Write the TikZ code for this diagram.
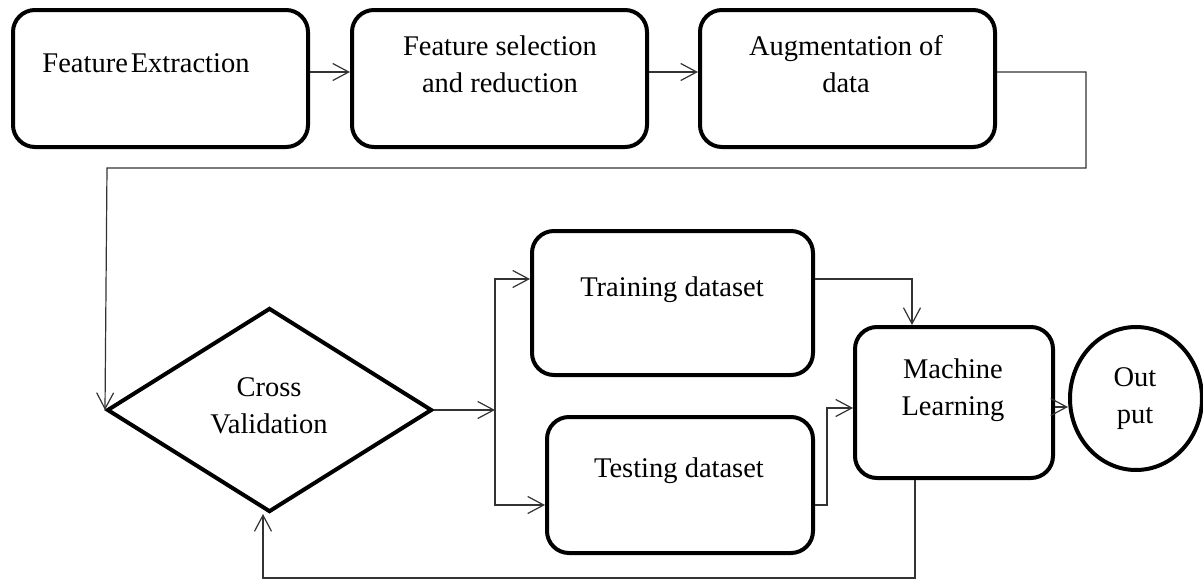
\documentclass[tikz,border=0pt]{standalone}
\usepackage{fontspec}
\setmainfont{Liberation Serif}
\usetikzlibrary{shapes.geometric,arrows.meta}
\begin{document}
\begin{tikzpicture}[x=1pt,y=-1pt,
  box/.style={draw=black,line width=4pt,rounded corners=22pt,inner sep=0pt},
  txt/.style={anchor=base,align=center,inner sep=0pt,font=\fontsize{28.5}{37}\selectfont},
  conn/.style={draw=black!80,line width=1.2pt,-{Straight Barb[length=16pt,width=17pt,line width=1.2pt]}}]
\useasboundingbox (0,0) rectangle (1203,581);
% boxes
\node[box,minimum width=295pt,minimum height=137pt] (fe) at (160.5,78.5) {};
\node[box,minimum width=295pt,minimum height=137pt] (fs) at (499.5,78.5) {};
\node[box,minimum width=295pt,minimum height=137pt] (ag) at (847.5,78.5) {};
\node[draw=black,line width=4pt,diamond,inner sep=0pt,minimum width=325pt,minimum height=204pt] (cv) at (269.5,410) {};
\node[box,minimum width=281pt,minimum height=144pt] (tr) at (672.5,303) {};
\node[box,minimum width=266pt,minimum height=136pt] (te) at (680,485) {};
\node[box,minimum width=198pt,minimum height=151pt] (ml) at (954,402.5) {};
\node[draw=black,line width=4pt,ellipse,inner sep=0pt,minimum width=132pt,minimum height=143pt] (out) at (1136,398.5) {};
% texts (anchor base = baseline of last line)
\node[txt] (tfe) at (146,72) {Feature\hspace{0.1em}Extraction};
\node[txt] (tfs) at (500,92) {Feature selection\\and reduction};
\node[txt] (tag) at (846,92) {Augmentation of\\data};
\node[txt] (tcv) at (269,433) {Cross\\Validation};
\node[txt] (ttr) at (672,296) {Training dataset};
\node[txt] (tte) at (679,477) {Testing dataset};
\node[txt] (tml) at (953,415) {Machine\\Learning};
\node[txt] (tout) at (1135,423) {Out\\put};
% connectors
\draw[conn] ([yshift=6.5pt]fe.east) -- ([yshift=6.5pt]fs.west);
\draw[conn] ([yshift=6.5pt]fs.east) -- ([yshift=6.5pt]ag.west);
\coordinate (r1) at (1086,72);
\coordinate (r2) at (1086,168);
\coordinate (l1) at (107,168);
\draw[conn] ([yshift=6.5pt]ag.east) -- (r1) -- (r2) -- (l1) -- (cv.west);
\coordinate (sp) at (495,410);
\draw[conn] (cv.east) -- (sp);
\draw[conn] (sp) |- ([yshift=24pt]tr.west);
\draw[conn] (sp) |- ([yshift=-20pt]te.west);
\draw[conn] ([yshift=24pt]tr.east) -| ([xshift=-42pt]ml.north);
\coordinate (tm) at (827,450);
\draw[conn] ([yshift=-20pt]te.east) -| (tm) |- ([yshift=-5.5pt]ml.west);
\coordinate (mo) at ([yshift=-4.5pt]ml.east);
\draw[conn] (mo) -- (mo -| out.west);
\coordinate (fb0) at ([xshift=-39pt]ml.south);
\coordinate (fb1) at (915,578);
\coordinate (fb2) at (263,578);
\draw[conn] (fb0) -- (fb1) -- (fb2) -- (fb2 |- cv.south);
\end{tikzpicture}
\end{document}
